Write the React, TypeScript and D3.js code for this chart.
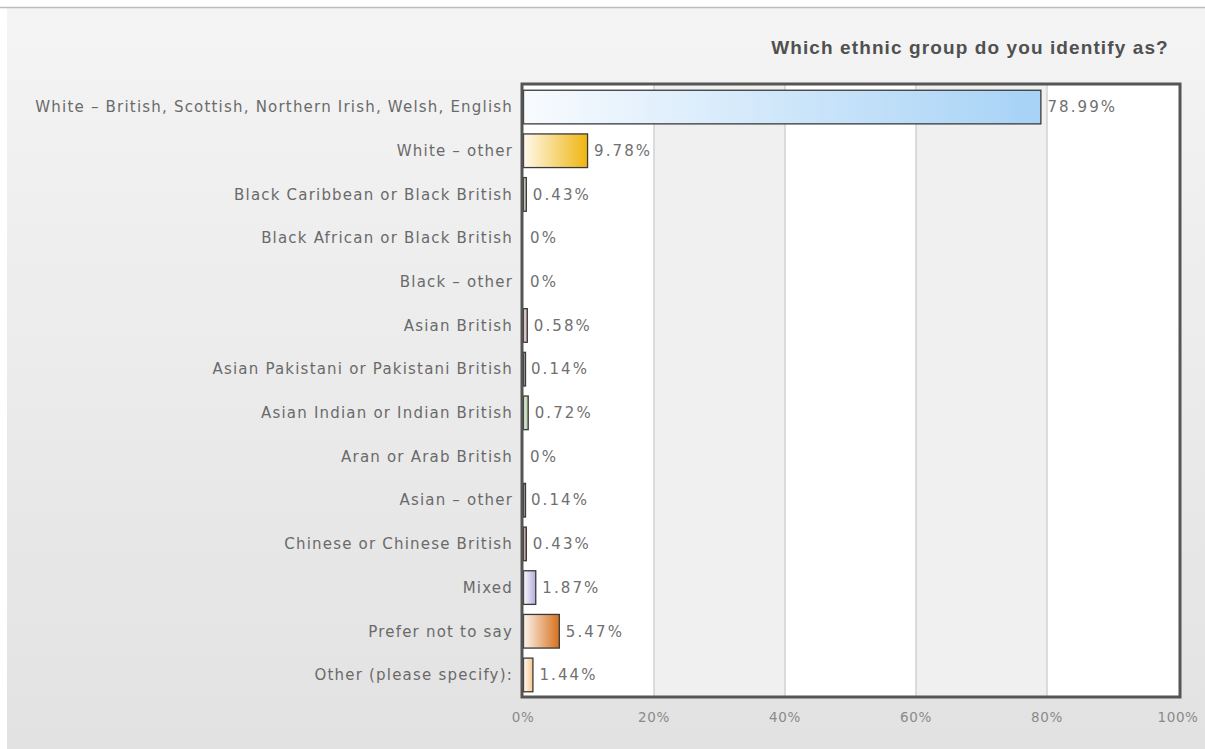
import React from "react";
import * as d3 from "d3";

const categories = [
  "White – British, Scottish, Northern Irish, Welsh, English",
  "White – other",
  "Black Caribbean or Black British",
  "Black African or Black British",
  "Black – other",
  "Asian British",
  "Asian Pakistani or Pakistani British",
  "Asian Indian or Indian British",
  "Aran or Arab British",
  "Asian – other",
  "Chinese or Chinese British",
  "Mixed",
  "Prefer not to say",
  "Other (please specify):",
];
const values = [78.99, 9.78, 0.43, 0, 0, 0.58, 0.14, 0.72, 0, 0.14, 0.43, 1.87, 5.47, 1.44];
const barColors = [
  "#a6d2f6", "#f0b510", "#9cb283", "#888888", "#888888", "#c09a9a", "#707070",
  "#9fbf8c", "#888888", "#707070", "#a06a6a", "#b4acdc", "#d6701c", "#f6c68c",
];
const tickValues = [0, 20, 40, 60, 80, 100];
const title = "Which ethnic group do you identify as?";

const W = 1205;
const H = 749;
const plot = { left: 523, right: 1178, top: 84, bottom: 697 };

export default function App() {
  const x = d3.scaleLinear().domain([0, 100]).range([plot.left, plot.right]);
  const y = d3
    .scaleBand<string>()
    .domain(categories)
    .range([plot.top + 1, plot.bottom])
    .paddingInner(0.23)
    .paddingOuter(0.12);
  const bands = d3.range(0, 100, 20);
  const font = "'DejaVu Sans', Verdana, sans-serif";

  return (
    <svg
      width={W}
      height={H}
      style={{ position: "absolute", left: 0, top: 0, display: "block" }}
      xmlns="http://www.w3.org/2000/svg"
    >
      <defs>
        <linearGradient id="bg" x1="0" y1="0" x2="0" y2="1">
          <stop offset="0" stopColor="#f4f4f4" />
          <stop offset="1" stopColor="#e2e2e2" />
        </linearGradient>
        {barColors.map((c, i) => (
          <linearGradient key={i} id={`bar${i}`} x1="0" y1="0" x2="1" y2="0">
            <stop offset="0" stopColor={d3.interpolateRgb("#ffffff", c)(0.08)} />
            <stop offset="1" stopColor={c} />
          </linearGradient>
        ))}
      </defs>
      <rect x={0} y={0} width={W} height={H} fill="#ffffff" />
      <rect x={7} y={7} width={W - 7} height={H - 7} fill="url(#bg)" />
      <line x1={0} x2={W} y1={7.5} y2={7.5} stroke="#bdbdbd" strokeWidth={1.5} />

      <text
        x={970}
        y={54}
        textAnchor="middle"
        fontFamily="'Liberation Sans', Arial, sans-serif"
        fontWeight="bold"
        fontSize={19}
        letterSpacing={1.1}
        fill="#505050"
      >
        {title}
      </text>

      {/* plot background */}
      <rect
        x={plot.left}
        y={plot.top}
        width={plot.right - plot.left + 2}
        height={plot.bottom - plot.top}
        fill="#ffffff"
      />
      {bands.map((b, i) =>
        i % 2 === 1 ? (
          <rect
            key={b}
            x={x(b)}
            y={plot.top}
            width={x(b + 20) - x(b)}
            height={plot.bottom - plot.top}
            fill="#f0f0f0"
          />
        ) : null
      )}
      {tickValues.slice(1, -1).map((t) => (
        <line
          key={t}
          x1={x(t)}
          x2={x(t)}
          y1={plot.top}
          y2={plot.bottom}
          stroke="#d2d2d2"
          strokeWidth={1.5}
        />
      ))}

      {/* bars */}
      {categories.map((c, i) => {
        const w = x(values[i]) - x(0);
        const by = y(c)!;
        const bh = y.bandwidth();
        return (
          <g key={c}>
            {values[i] > 0 && (
              <rect
                x={x(0) + 0.5}
                y={by}
                width={Math.max(w, 2)}
                height={bh}
                fill={`url(#bar${i})`}
                stroke="#3a3a3a"
                strokeWidth={1.3}
              />
            )}
            <text
              x={x(0) + Math.max(w, 0) + 7}
              y={by + bh / 2}
              dy="0.35em"
              fontFamily={font}
              fontSize={15}
              letterSpacing={2.1}
              fill="#707070"
            >
              {`${values[i]}%`}
            </text>
            <text
              x={plot.left - 10}
              y={by + bh / 2}
              dy="0.35em"
              textAnchor="end"
              fontFamily={font}
              fontSize={15}
              letterSpacing={1.2}
              fill="#6a6a6a"
            >
              {c}
            </text>
          </g>
        );
      })}

      {/* frame */}
      <rect
        x={plot.left - 1}
        y={plot.top}
        width={plot.right - plot.left + 3}
        height={plot.bottom - plot.top}
        fill="none"
        stroke="#555555"
        strokeWidth={3}
      />

      {/* axis */}
      {tickValues.map((t) => (
        <text
          key={t}
          x={x(t)}
          y={722}
          textAnchor="middle"
          fontFamily={font}
          fontSize={13.5}
          letterSpacing={0.6}
          fill="#8a8a8a"
        >
          {`${t}%`}
        </text>
      ))}
    </svg>
  );
}
